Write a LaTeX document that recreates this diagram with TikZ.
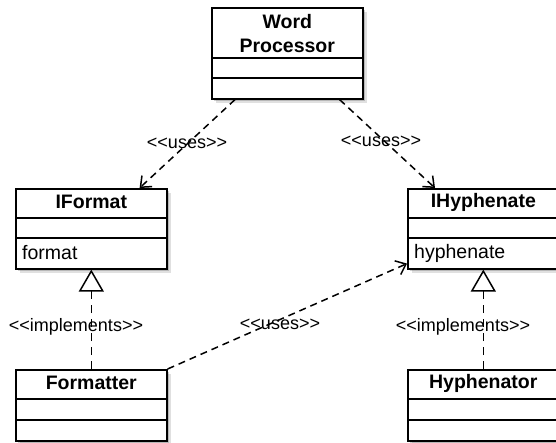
\documentclass[tikz,border=0pt]{standalone}
\usepackage{fontspec}
\setmainfont{Liberation Sans}
% plain family without TeX ligatures, so that << stays as two signs
\newfontfamily\stereofont{Liberation Sans}
\usetikzlibrary{shadows,arrows.meta}

\tikzset{
  classbox/.style={draw, line width=1.6pt, fill=white, inner sep=0pt, anchor=north west,
    drop shadow={shadow xshift=4pt, shadow yshift=-4pt, fill=black, opacity=.12},
    drop shadow={shadow xshift=2.5pt, shadow yshift=-2.5pt, fill=black, opacity=.18}},
  sep/.style={line width=1.6pt},
  clsname/.style={font=\fontsize{19.5}{24}\selectfont\bfseries, align=center, inner sep=0pt},
  member/.style={font=\fontsize{19.5}{22}\selectfont, anchor=west, inner sep=0pt},
  stereo/.style={font=\stereofont\fontsize{18}{20}\selectfont, inner sep=0pt},
  uses/.style={line width=1.5pt, dash pattern=on 7pt off 5pt,
    -{Straight Barb[length=9pt, width=15pt, line width=1.5pt]}},
  realizes/.style={line width=1.5pt, dash pattern=on 8pt off 6pt,
    -{Triangle[length=22pt, width=25pt, fill=white, line width=1.5pt]}}
}

\begin{document}
\begin{tikzpicture}[x=1pt, y=-1pt]
\useasboundingbox (0,0) rectangle (556,443);

% Word Processor
\node[classbox, minimum width=151pt, minimum height=91pt] (wp) at (211,7) {};
\draw[sep] ([yshift=-51pt]wp.north west) -- ([yshift=-51pt]wp.north east);
\draw[sep] ([yshift=-71pt]wp.north west) -- ([yshift=-71pt]wp.north east);
\node[clsname] (wpname) at ([yshift=-27pt]wp.north) {Word\\Processor};

% IFormat
\node[classbox, minimum width=151pt, minimum height=80pt] (ifmt) at (15,188) {};
\draw[sep] ([yshift=-30pt]ifmt.north west) -- ([yshift=-30pt]ifmt.north east);
\draw[sep] ([yshift=-50pt]ifmt.north west) -- ([yshift=-50pt]ifmt.north east);
\node[clsname] (ifmtname) at ([yshift=-14pt]ifmt.north) {IFormat};
\node[member] (ifmtop) at ([xshift=7pt, yshift=-65pt]ifmt.north west) {format};

% IHyphenate
\node[classbox, minimum width=151pt, minimum height=80pt] (ihy) at (407,188) {};
\draw[sep] ([yshift=-30pt]ihy.north west) -- ([yshift=-30pt]ihy.north east);
\draw[sep] ([yshift=-50pt]ihy.north west) -- ([yshift=-50pt]ihy.north east);
\node[clsname] (ihyname) at ([yshift=-14pt]ihy.north) {IHyphenate};
\node[member] (ihyop) at ([xshift=7pt, yshift=-65pt]ihy.north west) {hyphenate};

% Formatter
\node[classbox, minimum width=151pt, minimum height=71pt] (fmt) at (15,369) {};
\draw[sep] ([yshift=-30pt]fmt.north west) -- ([yshift=-30pt]fmt.north east);
\draw[sep] ([yshift=-51pt]fmt.north west) -- ([yshift=-51pt]fmt.north east);
\node[clsname] (fmtname) at ([yshift=-14pt]fmt.north) {Formatter};

% Hyphenator
\node[classbox, minimum width=151pt, minimum height=71pt] (hyp) at (407,369) {};
\draw[sep] ([yshift=-30pt]hyp.north west) -- ([yshift=-30pt]hyp.north east);
\draw[sep] ([yshift=-51pt]hyp.north west) -- ([yshift=-51pt]hyp.north east);
\node[clsname] (hypname) at ([yshift=-14pt]hyp.north) {Hyphenator};

% dependencies
\draw[uses] ([xshift=24pt]wp.south west) -- ([xshift=-28pt]ifmt.north east);
\draw[uses] ([xshift=-24pt]wp.south east) -- ([xshift=28pt]ihy.north west);
\draw[uses] (fmt.north east) -- ([yshift=6pt]ihy.south west);

% realizations
\draw[realizes] (fmt.north) -- (ifmt.south);
\draw[realizes] (hyp.north) -- (ihy.south);

% stereotypes
\node[stereo] (u1) at (187,143) {<<uses>>};
\node[stereo] (u2) at (381,141) {<<uses>>};
\node[stereo] (u3) at (280,324) {<<uses>>};
\node[stereo] (i1) at (76,327) {<<implements>>};
\node[stereo] (i2) at (463,327) {<<implements>>};
\end{tikzpicture}
\end{document}
